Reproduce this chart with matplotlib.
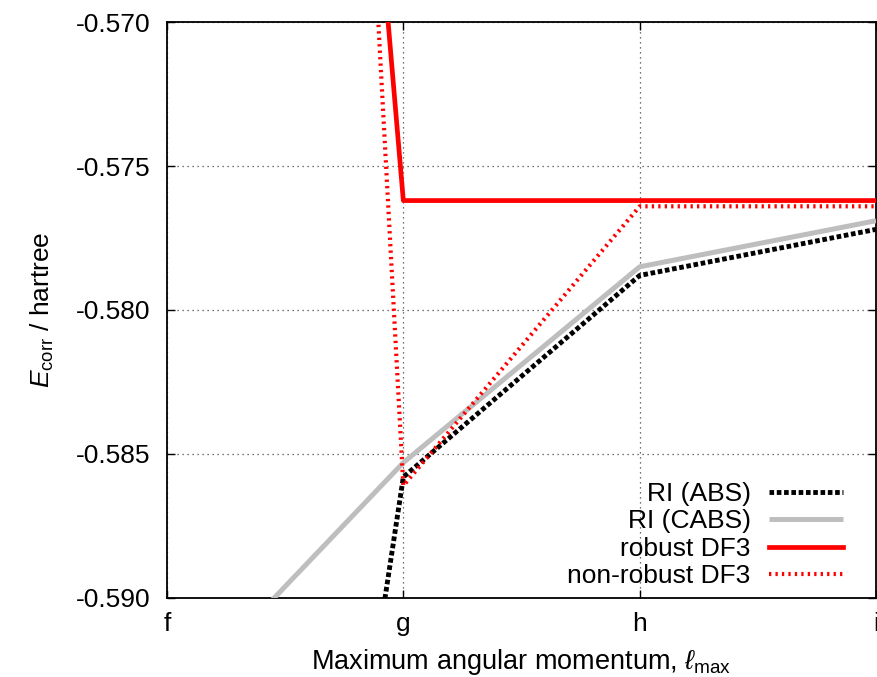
import matplotlib
matplotlib.use("Agg")
import matplotlib.pyplot as plt
from matplotlib.ticker import FormatStrFormatter

# angular momentum shells and correlation energies (hartree)
shells = ["f", "g", "h", "i"]
ri_abs = [-0.640, -0.5858, -0.5788, -0.5772]
ri_cabs = [-0.5939, -0.5853, -0.5785, -0.5769]
robust_df3 = [-0.480, -0.5762, -0.5762, -0.5762]
nonrobust_df3 = [-0.434, -0.5861, -0.5764, -0.5764]

plt.rcParams["font.family"] = ["Liberation Sans", "DejaVu Sans"]
plt.rcParams["mathtext.fontset"] = "custom"
plt.rcParams["mathtext.rm"] = "Liberation Sans"
plt.rcParams["mathtext.it"] = "Liberation Sans:italic"
plt.rcParams["axes.unicode_minus"] = False

fig = plt.figure(figsize=(8.77, 6.77), dpi=100)
ax = fig.add_axes([0.1904, 0.1167, 0.8085, 0.8508])

x = list(range(len(shells)))

# grey under black, reds on top
ax.plot(x, ri_cabs, color="#bebebe", lw=3.6, solid_capstyle="butt",
        label="RI (CABS)", zorder=3)
ax.plot(x, ri_abs, color="black", lw=3.5, dashes=(0.95, 0.55),
        dash_capstyle="butt", label="RI (ABS)", zorder=4)
ax.plot(x, robust_df3, color="#ff0000", lw=3.4, label="robust DF3", zorder=5)
ax.plot(x, nonrobust_df3, color="#ff0000", lw=3.0, dashes=(0.55, 1.0),
        dash_capstyle="butt", label="non-robust DF3", zorder=6)

ax.set_xlim(0, 3)
ax.set_ylim(-0.590, -0.570)
ax.set_xticks(x)
ax.set_xticklabels(shells)
ax.set_yticks([-0.590, -0.585, -0.580, -0.575, -0.570])
ax.yaxis.set_major_formatter(FormatStrFormatter("%.3f"))

ax.tick_params(direction="in", length=6, width=1, top=True, right=True,
               labelsize=19)
ax.tick_params(axis="y", pad=12)
ax.tick_params(axis="x", pad=10)
ax.grid(True, color="#444444", lw=0.9, linestyle=(0, (1, 3)))
for s in ax.spines.values():
    s.set_linewidth(1.3)

ax.set_xlabel(r"Maximum angular momentum, $\ell_{\rm max}$", fontsize=19.5,
              labelpad=8)
ax.set_ylabel(r"$E_{\rm corr}$ / hartree", fontsize=19, labelpad=14)

handles, labels = ax.get_legend_handles_labels()
order = [1, 0, 2, 3]
ax.legend([handles[i] for i in order], [labels[i] for i in order],
          loc="lower right", frameon=False, markerfirst=False, fontsize=19,
          handlelength=2.8, handletextpad=0.7, labelspacing=0.13,
          borderaxespad=0.0, borderpad=0.0, bbox_to_anchor=(0.9535, 0.017))

fig.savefig("out.png", dpi=100)
